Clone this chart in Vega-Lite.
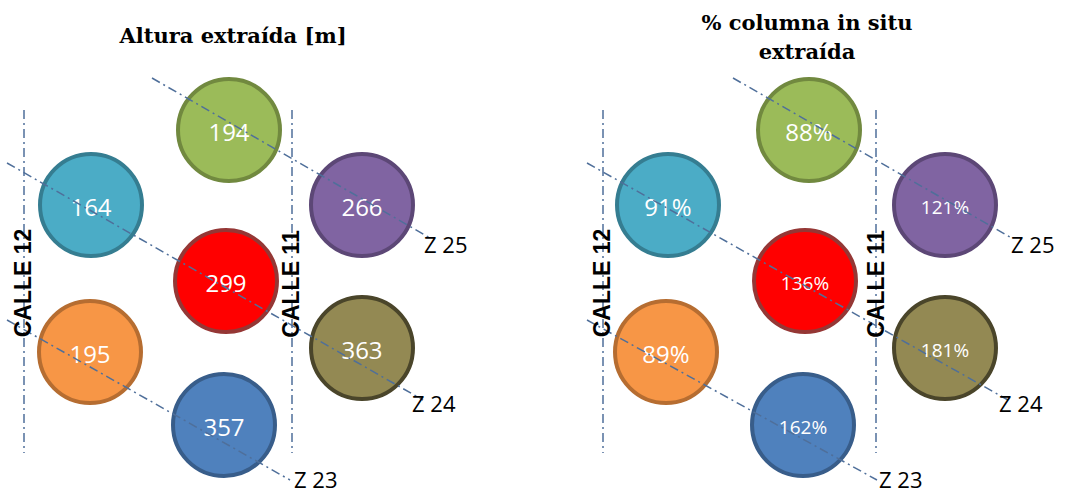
{
  "$schema": "https://vega.github.io/schema/vega-lite/v6.json",
  "width": 1070,
  "height": 495,
  "autosize": {"type": "fit", "contains": "padding"},
  "padding": 0,
  "background": "white",
  "config": {"view": {"stroke": null}},
  "datasets": {
    "circles": [
      {"panel": "altura", "pos": "norte", "cx": 229, "cy": 130, "label": "194", "small": false},
      {"panel": "altura", "pos": "oeste_sup", "cx": 91, "cy": 205, "label": "164", "small": false},
      {"panel": "altura", "pos": "este_sup", "cx": 362, "cy": 205, "label": "266", "small": false},
      {"panel": "altura", "pos": "centro", "cx": 226, "cy": 281, "label": "299", "small": false},
      {"panel": "altura", "pos": "oeste_inf", "cx": 90, "cy": 352, "label": "195", "small": false},
      {"panel": "altura", "pos": "este_inf", "cx": 362, "cy": 348, "label": "363", "small": false},
      {"panel": "altura", "pos": "sur", "cx": 224, "cy": 425, "label": "357", "small": false},
      {"panel": "porcentaje", "pos": "norte", "cx": 809, "cy": 130, "label": "88%", "small": false},
      {"panel": "porcentaje", "pos": "oeste_sup", "cx": 668, "cy": 205, "label": "91%", "small": false},
      {"panel": "porcentaje", "pos": "este_sup", "cx": 945, "cy": 205, "label": "121%", "small": true},
      {"panel": "porcentaje", "pos": "centro", "cx": 805, "cy": 281, "label": "136%", "small": true},
      {"panel": "porcentaje", "pos": "oeste_inf", "cx": 666, "cy": 352, "label": "89%", "small": false},
      {"panel": "porcentaje", "pos": "este_inf", "cx": 945, "cy": 348, "label": "181%", "small": true},
      {"panel": "porcentaje", "pos": "sur", "cx": 803, "cy": 425, "label": "162%", "small": true}
    ],
    "segments": [
      {"id": "c12_a", "x": 24, "y": 110, "x2": 24, "y2": 453},
      {"id": "c11_a", "x": 292, "y": 110, "x2": 292, "y2": 453},
      {"id": "z25_a", "x": 152, "y": 78, "x2": 430, "y2": 238},
      {"id": "z24_a", "x": 7, "y": 163, "x2": 423, "y2": 400},
      {"id": "z23_a", "x": 7, "y": 320, "x2": 290, "y2": 480},
      {"id": "c12_b", "x": 603, "y": 110, "x2": 603, "y2": 453},
      {"id": "c11_b", "x": 876, "y": 110, "x2": 876, "y2": 453},
      {"id": "z25_b", "x": 733, "y": 78, "x2": 1010, "y2": 237},
      {"id": "z24_b", "x": 587, "y": 163, "x2": 1008, "y2": 400},
      {"id": "z23_b", "x": 587, "y": 320, "x2": 877, "y2": 480}
    ],
    "labels": [
      {"kind": "calle", "text": "CALLE 12", "x": 24, "y": 283},
      {"kind": "calle", "text": "CALLE 11", "x": 292, "y": 284},
      {"kind": "calle", "text": "CALLE 12", "x": 603, "y": 283},
      {"kind": "calle", "text": "CALLE 11", "x": 877, "y": 284},
      {"kind": "zona", "text": "Z 25", "x": 424, "y": 246},
      {"kind": "zona", "text": "Z 24", "x": 412, "y": 405},
      {"kind": "zona", "text": "Z 23", "x": 294, "y": 481},
      {"kind": "zona", "text": "Z 25", "x": 1011, "y": 246},
      {"kind": "zona", "text": "Z 24", "x": 999, "y": 405},
      {"kind": "zona", "text": "Z 23", "x": 879, "y": 481},
      {"kind": "title", "text": "Altura extraída [m]", "x": 233, "y": 37},
      {"kind": "title", "text": "% columna in situ", "x": 807, "y": 24},
      {"kind": "title", "text": "extraída", "x": 807, "y": 53}
    ]
  },
  "encoding": {
    "x": {"type": "quantitative", "scale": {"domain": [0, 1070], "nice": false, "zero": false}, "axis": null},
    "y": {"type": "quantitative", "scale": {"domain": [0, 495], "nice": false, "zero": false, "reverse": true}, "axis": null}
  },
  "layer": [
    {
      "data": {"name": "circles"},
      "mark": {"type": "point", "shape": "circle", "filled": true, "size": 10400, "strokeWidth": 4, "opacity": 1, "fillOpacity": 1, "strokeOpacity": 1},
      "encoding": {
        "x": {"field": "cx", "type": "quantitative"},
        "y": {"field": "cy", "type": "quantitative"},
        "fill": {"field": "pos", "type": "nominal", "legend": null,
          "scale": {"domain": ["norte", "oeste_sup", "este_sup", "centro", "oeste_inf", "este_inf", "sur"],
                    "range": ["#9bbb59", "#4bacc6", "#8064a2", "#ff0000", "#f79646", "#938953", "#4f81bd"]}},
        "stroke": {"field": "pos", "type": "nominal", "legend": null,
          "scale": {"domain": ["norte", "oeste_sup", "este_sup", "centro", "oeste_inf", "este_inf", "sur"],
                    "range": ["#71893f", "#357d91", "#5c4776", "#953735", "#b66d31", "#4a452a", "#385d8a"]}}
      }
    },
    {
      "data": {"name": "circles"},
      "transform": [{"filter": "!datum.small"}],
      "mark": {"type": "text", "align": "center", "baseline": "middle", "dy": 4, "font": "Open Sans", "fontSize": 24, "color": "white"},
      "encoding": {
        "x": {"field": "cx", "type": "quantitative"},
        "y": {"field": "cy", "type": "quantitative"},
        "text": {"field": "label"}
      }
    },
    {
      "data": {"name": "circles"},
      "transform": [{"filter": "datum.small"}],
      "mark": {"type": "text", "align": "center", "baseline": "middle", "dy": 3, "font": "Open Sans", "fontSize": 19, "color": "white"},
      "encoding": {
        "x": {"field": "cx", "type": "quantitative"},
        "y": {"field": "cy", "type": "quantitative"},
        "text": {"field": "label"}
      }
    },
    {
      "data": {"name": "segments"},
      "mark": {"type": "rule", "color": "#4f6f9a", "strokeWidth": 1.5, "strokeDash": [9, 4, 2, 4]},
      "encoding": {
        "x": {"field": "x", "type": "quantitative"},
        "y": {"field": "y", "type": "quantitative"},
        "x2": {"field": "x2"},
        "y2": {"field": "y2"}
      }
    },
    {
      "data": {"name": "labels"},
      "transform": [{"filter": "datum.kind === 'calle'"}],
      "mark": {"type": "text", "angle": 270, "align": "center", "baseline": "middle", "font": "Liberation Sans", "fontWeight": "bold", "fontSize": 23, "color": "black"},
      "encoding": {
        "x": {"field": "x", "type": "quantitative"},
        "y": {"field": "y", "type": "quantitative"},
        "text": {"field": "text"}
      }
    },
    {
      "data": {"name": "labels"},
      "transform": [{"filter": "datum.kind === 'zona'"}],
      "mark": {"type": "text", "align": "left", "baseline": "middle", "font": "Open Sans", "fontSize": 22, "color": "black"},
      "encoding": {
        "x": {"field": "x", "type": "quantitative"},
        "y": {"field": "y", "type": "quantitative"},
        "text": {"field": "text"}
      }
    },
    {
      "data": {"name": "labels"},
      "transform": [{"filter": "datum.kind === 'title'"}],
      "mark": {"type": "text", "align": "center", "baseline": "middle", "font": "DejaVu Serif", "fontWeight": "bold", "fontSize": 21, "color": "black"},
      "encoding": {
        "x": {"field": "x", "type": "quantitative"},
        "y": {"field": "y", "type": "quantitative"},
        "text": {"field": "text"}
      }
    }
  ]
}
